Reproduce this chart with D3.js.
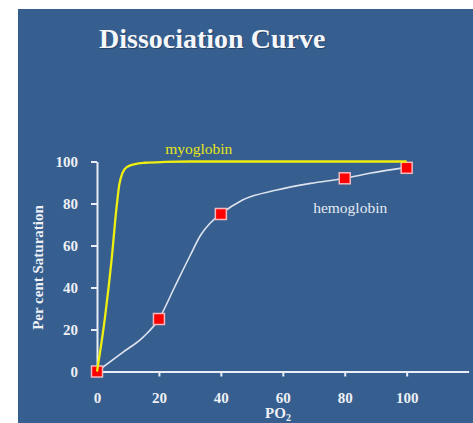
<!DOCTYPE html>
<html>
<head>
<meta charset="utf-8">
<script src="https://cdn.jsdelivr.net/npm/d3@7"></script>
<style>
  html, body { margin: 0; padding: 0; background: #ffffff; }
  svg { display: block; }
  text { font-family: "Liberation Serif", "Times New Roman", serif; }
</style>
</head>
<body>
<div id="chart"></div>
<script>
// Oxygen dissociation: per cent saturation against PO2
const xTicks = [0, 20, 40, 60, 80, 100];
const yTicks = [0, 20, 40, 60, 80, 100];

// myoglobin saturation curve
const myoPO2 = [0, 2.6, 4.7, 6.3, 7.2, 8.2, 9.6, 12.3, 15.5, 22, 30, 100];
const myoSat = [0, 26, 53, 78, 89, 94.5, 97.3, 98.8, 99.4, 99.8, 100, 100];

// hemoglobin saturation curve
const hbPO2 = [0, 8, 15, 20, 25, 30, 33.5, 36.5, 40, 47, 58, 69, 80, 88, 100];
const hbSat = [0, 8.8, 16.5, 25, 40, 55, 65, 70.6, 75, 81.7, 86.4, 89.6, 92, 94.4, 97.2];

// measured hemoglobin points
const markPO2 = [0, 20, 40, 80, 100];
const markSat = [0, 25, 75, 92, 97];

const W = 473, H = 423;
const svg = d3.select("#chart").append("svg")
  .attr("width", W).attr("height", H);

// slide panel
svg.append("rect")
  .attr("x", 18).attr("y", 9)
  .attr("width", W - 18).attr("height", H - 9)
  .attr("fill", "#365f8f");

const x = d3.scaleLinear().domain([0, 120]).range([97, 468.6]);
const y = d3.scaleLinear().domain([0, 100]).range([371.5, 161.5]);

const axisColor = "#e9edf5";
const labelColor = "#eef0f6";

// title
const title = svg.append("g");
title.append("text")
  .attr("x", 100).attr("y", 48.5)
  .attr("font-size", 28).attr("font-weight", "bold")
  .attr("fill", "#1d3350").attr("opacity", 0.6)
  .text("Dissociation Curve");
title.append("text")
  .attr("x", 99).attr("y", 47.5)
  .attr("font-size", 28).attr("font-weight", "bold")
  .attr("fill", "#f6f7fa")
  .text("Dissociation Curve");

// axes
const xAxis = svg.append("g")
  .attr("transform", `translate(0,${y(0)})`)
  .call(d3.axisBottom(x).tickValues(xTicks).tickSize(5).tickSizeOuter(0).tickPadding(15.5));
const yAxis = svg.append("g")
  .attr("transform", `translate(${x(0)},0)`)
  .call(d3.axisLeft(y).tickValues(yTicks).tickSize(6).tickSizeOuter(0).tickPadding(13));

[xAxis, yAxis].forEach(g => {
  g.select(".domain").attr("stroke", axisColor).attr("stroke-width", 2);
  g.selectAll(".tick line").attr("stroke", axisColor).attr("stroke-width", 2);
  g.selectAll(".tick text")
    .attr("fill", labelColor)
    .attr("font-family", "'Liberation Serif', 'Times New Roman', serif")
    .attr("font-size", 15).attr("font-weight", "bold");
});

// axis titles
svg.append("text")
  .attr("transform", `translate(43,${y(50) + 1}) rotate(-90)`)
  .attr("text-anchor", "middle")
  .attr("font-size", 15).attr("font-weight", "bold")
  .attr("fill", labelColor)
  .text("Per cent Saturation");

const xt = svg.append("text")
  .attr("x", 278).attr("y", 418)
  .attr("text-anchor", "middle")
  .attr("font-size", 15).attr("font-weight", "bold")
  .attr("fill", labelColor);
xt.append("tspan").text("PO");
xt.append("tspan").attr("font-size", 10).attr("dy", 2.5).text("2");

const line = d3.line()
  .x(d => x(d[0])).y(d => y(d[1]))
  .curve(d3.curveMonotoneX);

// hemoglobin curve
svg.append("path")
  .datum(hbPO2.map((v, i) => [v, hbSat[i]]))
  .attr("d", line)
  .attr("fill", "none")
  .attr("stroke", "#dde2ee")
  .attr("stroke-width", 1.6);

// hemoglobin markers
const sz = 11;
svg.append("g").selectAll("rect")
  .data(markPO2.map((v, i) => [v, markSat[i]]))
  .join("rect")
  .attr("x", d => x(d[0]) - sz / 2)
  .attr("y", d => y(d[1]) - sz / 2)
  .attr("width", sz).attr("height", sz)
  .attr("fill", "#ff0000")
  .attr("stroke", "#f4b8bc")
  .attr("stroke-width", 1.5);

// myoglobin curve
svg.append("path")
  .datum(myoPO2.map((v, i) => [v, myoSat[i]]))
  .attr("d", line)
  .attr("fill", "none")
  .attr("stroke", "#eeee10")
  .attr("stroke-width", 2.3);

// curve labels
svg.append("text")
  .attr("x", x(22)).attr("y", 154)
  .attr("font-size", 15.5)
  .attr("fill", "#e6e61a")
  .text("myoglobin");

svg.append("text")
  .attr("x", x(69.8)).attr("y", 212.5)
  .attr("font-size", 15.5)
  .attr("fill", "#e4e8f2")
  .text("hemoglobin");
</script>
</body>
</html>
